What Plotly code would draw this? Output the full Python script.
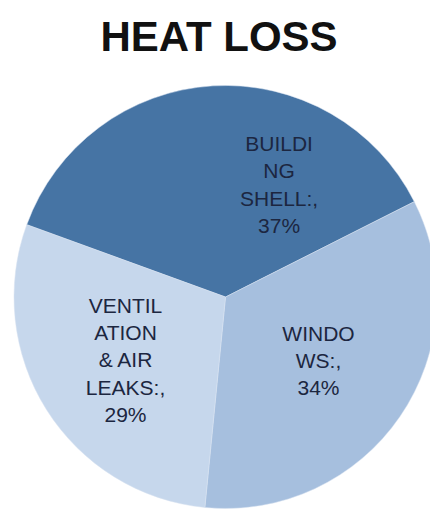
import plotly.graph_objects as go

categories = ["BUILDING SHELL", "WINDOWS", "VENTILATION & AIR LEAKS"]
display_labels = ["BUILDI<br>NG<br>SHELL:,", "WINDO<br>WS:,", "VENTIL<br>ATION<br>& AIR<br>LEAKS:,"]
values = [37, 34, 29]
colors = ["#4674a4", "#a6bfde", "#c6d7ec"]

text = [f"{l}<br>{v}%" for l, v in zip(display_labels, values)]
FONT = "Liberation Sans, Arial, sans-serif"
TEXT_COLOR = "#1c2640"

# page body has an 8px margin; positions below are in figure coordinates
fig = go.Figure(go.Pie(
    labels=categories,
    values=values,
    text=text,
    textinfo="text",
    textposition=["none", "inside", "inside"],
    insidetextorientation="horizontal",
    sort=False,
    direction="clockwise",
    rotation=-70,
    marker=dict(colors=colors, line=dict(color="#d8e3f0", width=0.5)),
    textfont=dict(family=FONT, size=21, color=TEXT_COLOR),
    domain=dict(x=[6/438, 429/438], y=[1-501/523, 1-77/523]),
    showlegend=False,
    hoverinfo="label+percent",
))

# the first slice's label sits off its bisector in the original chart
fig.add_annotation(
    text=text[0], x=271/438, y=1-176/523, xref="paper", yref="paper",
    showarrow=False, xanchor="center", yanchor="middle", align="center",
    font=dict(family=FONT, size=21, color=TEXT_COLOR),
)

fig.update_layout(
    width=438, height=523,
    margin=dict(l=0, r=0, t=0, b=0),
    paper_bgcolor="white",
    plot_bgcolor="white",
    title=dict(
        text="<b>HEAT LOSS</b>",
        x=211/438, xanchor="center",
        y=1-28.5/523, yanchor="middle",
        font=dict(family=FONT, size=42, color="#111111"),
    ),
)

fig.write_html("out.html")
